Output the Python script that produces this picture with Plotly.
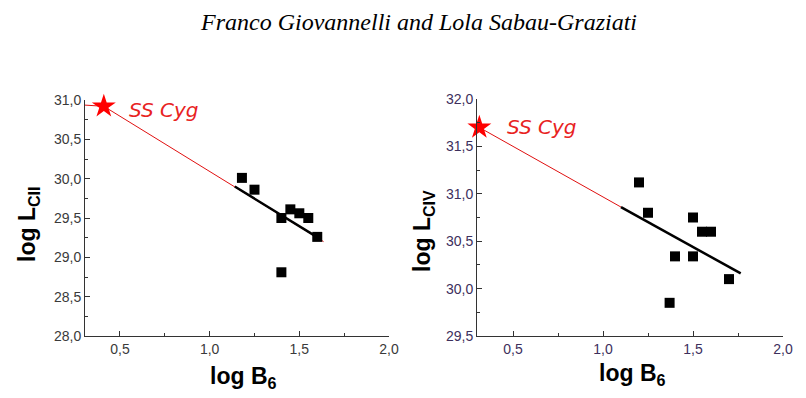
import plotly.graph_objects as go

# ---- data ----
# Left panel: log L_CII vs log B6
left_x = [1.18, 1.25, 1.40, 1.45, 1.50, 1.55, 1.60, 1.40]
left_y = [30.01, 29.86, 29.50, 29.61, 29.56, 29.50, 29.26, 28.81]
left_star_x = [0.41]
left_star_y = [30.92]
left_red_x = [0.305, 0.41, 1.635]
left_red_y = [30.935, 30.92, 29.20]
left_fit_x = [1.14, 1.59]
left_fit_y = [29.90, 29.27]

# Right panel: log L_CIV vs log B6
right_x = [1.20, 1.25, 1.50, 1.55, 1.60, 1.40, 1.50, 1.70, 1.37]
right_y = [31.12, 30.80, 30.75, 30.60, 30.60, 30.34, 30.34, 30.10, 29.85]
right_star_x = [0.313]
right_star_y = [31.70]
right_red_x = [0.313, 1.10]
right_red_y = [31.70, 30.86]
right_fit_x = [1.10, 1.765]
right_fit_y = [30.86, 30.16]

x_tickvals = [0.5, 1.0, 1.5, 2.0]
x_ticktext = ["0,5", "1,0", "1,5", "2,0"]
left_y_tickvals = [28.0, 28.5, 29.0, 29.5, 30.0, 30.5, 31.0]
left_y_ticktext = ["28,0", "28,5", "29,0", "29,5", "30,0", "30,5", "31,0"]
right_y_tickvals = [29.5, 30.0, 30.5, 31.0, 31.5, 32.0]
right_y_ticktext = ["29,5", "30,0", "30,5", "31,0", "31,5", "32,0"]

header = "Franco Giovannelli and Lola Sabau-Graziati"
star_label = "SS Cyg"

# page has an 8px body margin; figure sized to fit the window
OFF = 8
W, H = 798, 390
def fx(px):
    return (px - OFF) / W
def fy(py):
    return 1 - (py - OFF) / H

fig = go.Figure()

# left panel traces
fig.add_trace(go.Scatter(x=left_red_x, y=left_red_y, mode="lines",
                         line=dict(color="#e01010", width=1), xaxis="x", yaxis="y", cliponaxis=False))
fig.add_trace(go.Scatter(x=left_fit_x, y=left_fit_y, mode="lines",
                         line=dict(color="black", width=2.5), xaxis="x", yaxis="y"))
fig.add_trace(go.Scatter(x=left_x, y=left_y, mode="markers",
                         marker=dict(symbol="square", size=10, color="black"), xaxis="x", yaxis="y"))
fig.add_trace(go.Scatter(x=left_star_x, y=left_star_y, mode="markers",
                         marker=dict(symbol="star", size=18, color="#ff0000", line=dict(width=0)),
                         xaxis="x", yaxis="y", cliponaxis=False))

# right panel traces
fig.add_trace(go.Scatter(x=right_red_x, y=right_red_y, mode="lines",
                         line=dict(color="#e01010", width=1), xaxis="x2", yaxis="y2", cliponaxis=False))
fig.add_trace(go.Scatter(x=right_fit_x, y=right_fit_y, mode="lines",
                         line=dict(color="black", width=2.5), xaxis="x2", yaxis="y2"))
fig.add_trace(go.Scatter(x=right_x, y=right_y, mode="markers",
                         marker=dict(symbol="square", size=10, color="black"), xaxis="x2", yaxis="y2"))
fig.add_trace(go.Scatter(x=right_star_x, y=right_star_y, mode="markers",
                         marker=dict(symbol="star", size=18, color="#ff0000", line=dict(width=0)),
                         xaxis="x2", yaxis="y2", cliponaxis=False))

axis_common = dict(showgrid=False, zeroline=False, showline=True, linecolor="#333333", linewidth=1,
                   ticks="inside", ticklen=5, tickwidth=1, tickcolor="#333333", automargin=False)

tick_font_left = dict(family="Liberation Sans, Arial, sans-serif", size=14, color="#3a3a3a")
tick_font_right = dict(family="Liberation Sans, Arial, sans-serif", size=14, color="#3d2f5c")
minor = dict(ticks="inside", ticklen=3, tick0=0, dtick=0.25, tickcolor="#333333")

fig.update_layout(
    width=W, height=H,
    margin=dict(l=0, r=0, t=0, b=0, autoexpand=False),
    paper_bgcolor="white", plot_bgcolor="white",
    showlegend=False,
    xaxis=dict(domain=[fx(85), fx(389)], range=[0.305, 2.0], anchor="y",
               tickvals=x_tickvals, ticktext=x_ticktext, tickfont=tick_font_left,
               minor=minor, **axis_common),
    yaxis=dict(domain=[fy(336), fy(100)], range=[28.0, 31.0], anchor="x",
               tickvals=left_y_tickvals, ticktext=left_y_ticktext, tickfont=tick_font_left,
               minor=minor, **axis_common),
    xaxis2=dict(domain=[fx(477), fx(783)], range=[0.3, 2.0], anchor="y2",
                tickvals=x_tickvals, ticktext=x_ticktext, tickfont=tick_font_right,
                minor=minor, **axis_common),
    yaxis2=dict(domain=[fy(336), fy(99)], range=[29.5, 32.0], anchor="x2",
                tickvals=right_y_tickvals, ticktext=right_y_ticktext, tickfont=tick_font_right,
                minor=minor, **axis_common),
)

title_font = dict(family="Liberation Sans, Arial, sans-serif", size=23, color="black")
label_font = dict(family="DejaVu Sans, sans-serif", size=20, color="#e8231f")

def A(text, px, py, font, angle=0):
    return dict(text=text, x=fx(px), y=fy(py), xref="paper", yref="paper",
                xanchor="center", yanchor="middle", textangle=angle,
                showarrow=False, font=font)

ann = [
    A("<i>" + header + "</i>", 418, 22,
      dict(family="Liberation Serif, Times New Roman, serif", size=24, color="black")),
    A("<b>log L<sub>CII</sub></b>", 28, 224, title_font, -90),
    A("<b>log L<sub>CIV</sub></b>", 423, 231, title_font, -90),
    A("<b>log B<sub>6</sub></b>", 243, 377, title_font),
    A("<b>log B<sub>6</sub></b>", 632, 374, title_font),
    A("<i>" + star_label + "</i>", 164, 110, label_font),
    A("<i>" + star_label + "</i>", 542, 127, label_font),
]
fig.update_layout(annotations=ann)

fig.write_html("out.html")
